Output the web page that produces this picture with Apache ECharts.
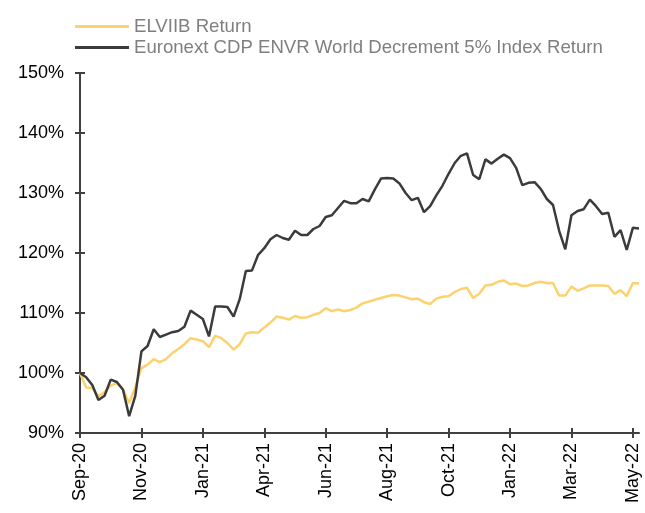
<!DOCTYPE html>
<html>
<head>
<meta charset="utf-8">
<script src="https://cdn.jsdelivr.net/npm/echarts@6/dist/echarts.min.js"></script>
<style>
    html, body { margin: 0; padding: 0; background: #fff; }
    #chart { width: 645px; height: 513px; }
</style>
</head>
<body>
<div id="chart"></div>
<script>
// weekly points, a tick label every 10 weeks
var tickLabels = ['Sep-20', 'Nov-20', 'Jan-21', 'Apr-21', 'Jun-21', 'Aug-21', 'Oct-21', 'Jan-22', 'Mar-22', 'May-22'];
var seriesNames = ['ELVIIB Return', 'Euronext CDP ENVR World Decrement 5% Index Return'];

var elviib = [
    100.0, 97.6, 97.5, 96.1, 96.8, 97.9, 98.3, 97.3, 95.0, 97.6,
    100.8, 101.4, 102.3, 101.8, 102.3, 103.3, 104.0, 104.8, 105.8, 105.6,
    105.3, 104.3, 106.2, 105.8, 105.0, 103.9, 104.8, 106.6, 106.8, 106.7,
    107.6, 108.4, 109.4, 109.2, 108.9, 109.5, 109.2, 109.3, 109.7, 110.0,
    110.8, 110.3, 110.6, 110.3, 110.5, 110.9, 111.6, 111.9, 112.2, 112.5,
    112.8, 113.0, 112.9, 112.6, 112.3, 112.4, 111.8, 111.5, 112.4, 112.7,
    112.8, 113.5, 114.0, 114.2, 112.5, 113.2, 114.6, 114.7, 115.2, 115.4,
    114.8, 114.9, 114.5, 114.6, 115.0, 115.2, 115.0, 115.0, 112.9, 112.9,
    114.4, 113.7, 114.1, 114.6, 114.6, 114.6, 114.5, 113.2, 113.8, 112.8,
    115.0, 114.9
];

var euronext = [
    100.0, 99.3, 98.0, 95.5, 96.2, 98.9, 98.5, 97.2, 92.8, 96.2,
    103.6, 104.5, 107.3, 106.0, 106.4, 106.8, 107.0, 107.7, 110.4, 109.7,
    109.0, 106.1, 111.1, 111.1, 111.0, 109.4, 112.3, 117.0, 117.1, 119.7,
    120.8, 122.3, 123.0, 122.5, 122.2, 123.7, 123.0, 123.0, 124.0, 124.5,
    126.0, 126.3, 127.5, 128.7, 128.3, 128.3, 129.0, 128.6, 130.6, 132.4,
    132.5, 132.4, 131.6, 130.0, 128.8, 129.2, 126.8, 127.8, 129.6, 131.2,
    133.2, 135.0, 136.2, 136.6, 133.0, 132.3, 135.6, 134.9, 135.7, 136.4,
    135.8, 134.2, 131.3, 131.7, 131.8, 130.7, 129.0, 128.0, 123.7, 120.6,
    126.3, 127.0, 127.3, 128.9, 127.8, 126.5, 126.7, 122.7, 123.8, 120.5,
    124.2, 124.1
];

var weeks = [];
elviib.forEach(function (v, i) {
    weeks.push('w' + i);
});

var box = document.getElementById('chart');
var myChart = echarts.init(box);

var axisColor = '#404040';
var font = 'Liberation Sans, Arial, sans-serif';

var options = {
    animation: false,
    textStyle: { fontFamily: font },
    legend: {
        orient: 'vertical',
        left: 70,
        top: 12,
        itemGap: 2,
        itemWidth: 54,
        itemHeight: 3,
        icon: 'rect',
        textStyle: { color: '#7f7f7f', fontSize: 18.6, fontFamily: font },
        data: seriesNames
    },
    grid: { left: 80, right: 6, top: 73, bottom: 80 },
    xAxis: [
        {
            type: 'category',
            data: weeks,
            boundaryGap: false,
            axisLine: { lineStyle: { color: axisColor, width: 2 } },
            axisTick: { interval: 9, length: 5, lineStyle: { color: axisColor, width: 2 } },
            axisLabel: {
                interval: 9,
                rotate: 90,
                margin: 10,
                color: '#000',
                fontSize: 18,
                fontFamily: font,
                formatter: function (v, i) { return tickLabels[i / 10] || ''; }
            },
            splitLine: { show: false }
        },
        {
            // second copy only to draw the inner half of the crossing ticks
            type: 'category',
            data: weeks,
            position: 'bottom',
            boundaryGap: false,
            axisLine: { show: false },
            axisTick: { inside: true, interval: 9, length: 5, lineStyle: { color: axisColor, width: 2 } },
            axisLabel: { show: false },
            splitLine: { show: false }
        }
    ],
    yAxis: [
        {
            type: 'value',
            min: 90,
            max: 150,
            interval: 10,
            axisLine: { show: true, lineStyle: { color: axisColor, width: 2 } },
            axisTick: { show: true, length: 5, lineStyle: { color: axisColor, width: 2 } },
            axisLabel: { margin: 16, color: '#000', fontSize: 18, fontFamily: font, formatter: '{value}%' },
            splitLine: { show: false }
        },
        {
            type: 'value',
            position: 'left',
            min: 90,
            max: 150,
            interval: 10,
            axisLine: { show: false },
            axisTick: { show: true, inside: true, length: 5, lineStyle: { color: axisColor, width: 2 } },
            axisLabel: { show: false },
            splitLine: { show: false }
        }
    ],
    series: [
        {
            name: seriesNames[0],
            type: 'line',
            data: elviib,
            symbol: 'none',
            color: '#FDD26E',
            lineStyle: { color: '#FDD26E', width: 2.5 }
        },
        {
            name: seriesNames[1],
            type: 'line',
            data: euronext,
            symbol: 'none',
            color: '#3b3b3b',
            lineStyle: { color: '#3b3b3b', width: 2.5 }
        }
    ]
};
myChart.setOption(options);
</script>
</body>
</html>
